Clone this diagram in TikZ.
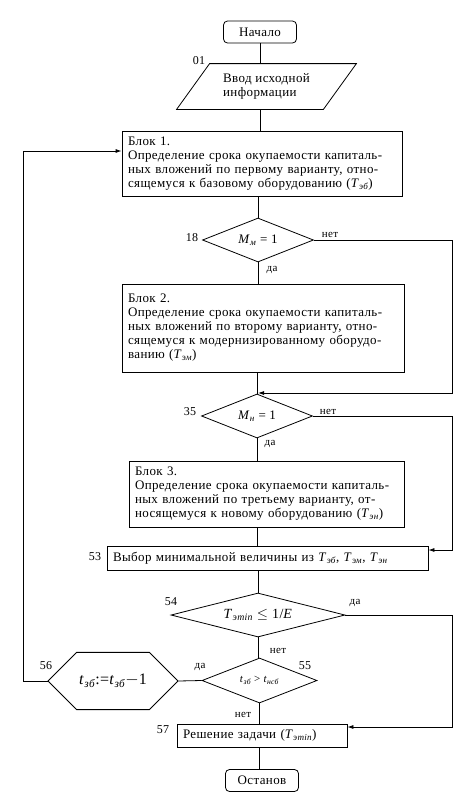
\documentclass[tikz,border=0pt]{standalone}
\usepackage{fontspec}
\setmainfont[LetterSpace=3]{Liberation Serif}
\usetikzlibrary{arrows.meta,positioning,shapes.geometric,shapes.misc}
\newcommand\subi[1]{\textsubscript{\itshape #1}}

\begin{document}
\begin{tikzpicture}[x=1pt,y=-1pt,>={Latex[length=6pt,width=4pt]},line width=0.8pt,
  font=\fontsize{13}{14}\selectfont,
  term/.style={draw,rounded corners=4pt,minimum width=73pt,minimum height=22pt,inner sep=0pt},
  blk/.style={draw,align=left,inner xsep=6pt,inner ysep=0pt},
  cond/.style={draw,diamond,aspect=2.5,inner sep=0pt,minimum width=111pt,minimum height=44pt},
  num/.style={font=\fontsize{12}{13}\selectfont},
  ans/.style={font=\fontsize{11}{12}\selectfont}]
\useasboundingbox (0,0) rectangle (476,804);
% terminals and input
\node[term] (start) at (260,32) {Начало};
\node[minimum width=146pt,minimum height=45pt,inner sep=0pt,align=left] (input) at (266.5,86.5) {Ввод исходной\\информации};
\draw ([xshift=16.5pt]input.north west) -- ([xshift=16.5pt]input.north east)
  -- ([xshift=-16.5pt]input.south east) -- ([xshift=-16.5pt]input.south west) -- cycle;
% calculation blocks
\node[blk,text width=268pt,minimum height=65pt] (blk1) at (262,163.5) {Блок 1.\\Определение срока окупаемости капиталь-\\ных вложений по первому варианту, отно-\\сящемуся к базовому оборудованию (\textit{T}\subi{эб})};
\node[cond] (d18) at (258,240) {\textit{M}\subi{м} = 1};
\node[blk,text width=270pt,minimum height=88pt] (blk2) at (263,328) {Блок 2.\\Определение срока окупаемости капиталь-\\ных вложений по второму варианту, отно-\\сящемуся к модернизированному оборудо-\\ванию (\textit{T}\subi{эм})};
\node[cond] (d35) at (257,416) {\textit{M}\subi{н} = 1};
\node[blk,text width=263pt,minimum height=66pt] (blk3) at (266.5,494) {Блок 3.\\Определение срока окупаемости капиталь-\\ных вложений по третьему варианту, от-\\носящемуся к новому оборудованию (\textit{T}\subi{эн})};
\node[blk,text width=309pt,minimum height=24pt] (blk53) at (267.5,558) {Выбор минимальной величины из \textit{T}\subi{эб}, \textit{T}\subi{эм}, \textit{T}\subi{эн}};
\node[cond,aspect=4,minimum width=174pt,font=\fontsize{14}{15}\selectfont] (d54) at (258,615) {\textit{T}\subi{эmin} $\leq$ 1/\textit{E}};
\node[cond,minimum width=115pt,minimum height=45pt,font=\fontsize{11}{12}\selectfont] (d55) at (259.5,680.5) {\textit{t}\subi{зб} > \textit{t}\subi{нсб}};
\node[draw,chamfered rectangle,chamfered rectangle xsep=25pt,chamfered rectangle ysep=22pt,
  minimum width=130pt,minimum height=44pt,inner sep=0pt,font=\fontsize{16}{18}\selectfont] (hex) at (113,681) {\textit{t}\subi{зб}:=\textit{t}\subi{зб}$-$1};
\node[blk,text width=158pt,minimum height=23pt] (blk57) at (262,735.5) {Решение задачи (\textit{T}\subi{эmin})};
\node[term] (stop) at (262,780.5) {Останов};
% block numbers
\node[num] at (199,61) {01};
\node[num] at (192,238) {18};
\node[num] at (190,412) {35};
\node[num] at (95,557) {53};
\node[num] at (171,602) {54};
\node[num] at (305,666) {55};
\node[num] at (46,666) {56};
\node[num] at (163,730) {57};
% turning points
\coordinate (j1) at (452,393);
\coordinate (j2) at (452,550);
\coordinate (j3) at (452,727);
\coordinate (j4) at (23,151);
% connectors
\draw (start) -- (start |- input.north);
\draw (input.south -| start) -- (blk1.north -| start);
\draw (blk1.south -| d18) -- (d18.north);
\draw (d18.south) -- (d18 |- blk2.north);
\draw[->] (d18.east) -| (j1) -- (j1 -| d18);
\draw (blk2.south -| d35) -- (d35.north);
\draw (d35.south) -- (d35 |- blk3.north);
\draw[->] (d35.east) -| (j2) -- (j2 -| blk53.east);
\draw (blk3.south -| d35) -- (blk53.north -| d35);
\draw (blk53.south -| d54) -- (d54.north);
\draw[->] (d54.east) -| (j3) -- (j3 -| blk57.east);
\draw (d54.south) -- (d55.north -| d54);
\draw (d55.west) -- (hex.east);
\draw[->] (hex.west) -| (j4) -- (j4 -| blk1.west);
\draw (d55.south) -- (d55 |- blk57.north);
\draw (blk57.south -| d55) -- (stop.north -| d55);
% answers
\node[ans] at (330,235) {нет};
\node[ans] at (272,270) {да};
\node[ans] at (328,412) {нет};
\node[ans] at (270,444) {да};
\node[ans] at (355,603) {да};
\node[ans] at (278,651) {нет};
\node[ans] at (200,667) {да};
\node[ans] at (243,715) {нет};
\end{tikzpicture}
\end{document}
